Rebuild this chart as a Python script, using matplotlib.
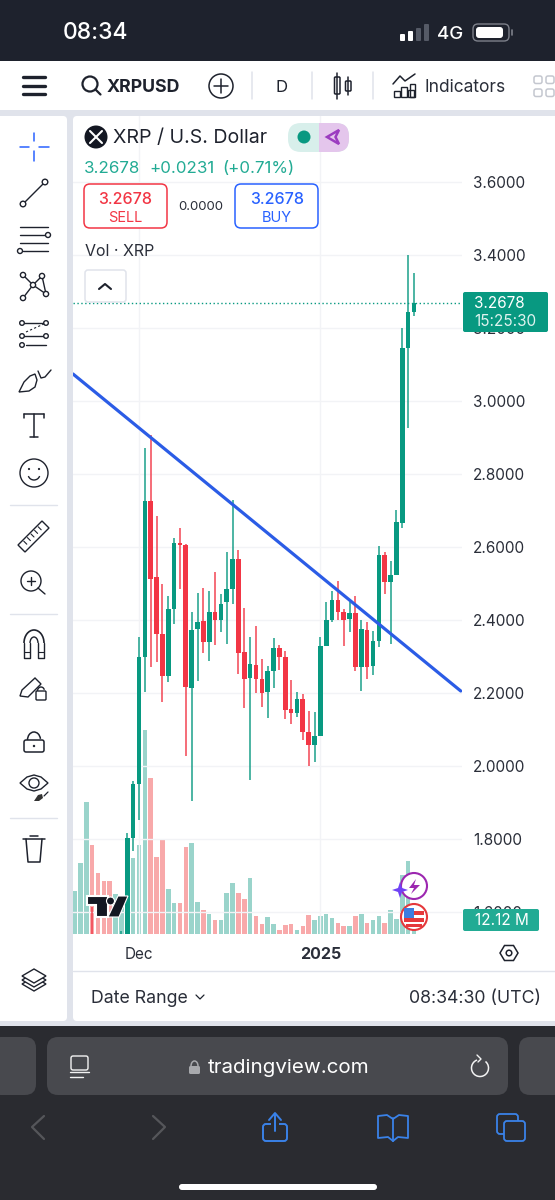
"""
XRP / U.S. Dollar daily chart, phone screenshot of tradingview
"""

import matplotlib
matplotlib.use("Agg")
import matplotlib.pyplot as plt
from matplotlib.patches import FancyBboxPatch, Circle, Polygon, Arc

plt.rcParams['font.family'] = ['Inter', 'DejaVu Sans']

W, H = 555, 1200

# day index, 0 is Dec 1 2024, 31 is Jan 1 2025
days = list(range(-11, 48))

# candles left of -2 sit below the visible pane, rough estimates
opens = [1.00, 1.11, 1.12, 1.47, 1.40, 1.38, 1.36, 1.35, 1.40, 1.50, 1.802, 1.952,
         2.298, 2.725, 2.517, 2.362, 2.246, 2.430, 2.612, 2.605, 2.215, 2.374, 2.398,
         2.339, 2.423, 2.400, 2.449, 2.486, 2.568, 2.311, 2.242, 2.278, 2.239, 2.202,
         2.259, 2.324, 2.298, 2.155, 2.146, 2.184, 2.092, 2.057, 2.082, 2.330, 2.401,
         2.455, 2.421, 2.403, 2.420, 2.272, 2.373, 2.274, 2.342, 2.578, 2.505, 2.523,
         2.667, 3.144, 3.245]
highs = [1.15, 1.30, 1.50, 1.615, 1.46, 1.47, 1.43, 1.46, 1.547, 1.817, 1.960, 2.353,
         2.872, 2.907, 2.684, 2.499, 2.466, 2.624, 2.651, 2.608, 2.423, 2.473, 2.487,
         2.480, 2.531, 2.470, 2.585, 2.729, 2.592, 2.432, 2.353, 2.384, 2.294, 2.275,
         2.352, 2.332, 2.314, 2.235, 2.204, 2.196, 2.152, 2.149, 2.353, 2.448, 2.479,
         2.508, 2.429, 2.450, 2.467, 2.400, 2.394, 2.371, 2.604, 2.585, 2.563, 2.700,
         3.199, 3.401, 3.351]
lows = [0.98, 1.08, 1.11, 1.30, 1.34, 1.30, 1.34, 1.34, 1.38, 1.49, 1.767, 1.852,
        2.204, 2.272, 2.286, 2.174, 2.231, 2.389, 2.484, 2.028, 1.904, 2.234, 2.310,
        2.288, 2.332, 2.368, 2.334, 2.444, 2.251, 2.160, 1.962, 2.200, 2.163, 2.131,
        2.213, 2.263, 2.129, 2.116, 2.135, 2.071, 2.000, 2.012, 2.082, 2.330, 2.395,
        2.400, 2.330, 2.368, 2.261, 2.206, 2.237, 2.249, 2.327, 2.471, 2.333, 2.523,
        2.651, 2.925, 3.233]
closes = [1.11, 1.12, 1.47, 1.40, 1.38, 1.36, 1.35, 1.40, 1.50, 1.802, 1.952, 2.298,
          2.727, 2.513, 2.362, 2.247, 2.429, 2.612, 2.605, 2.217, 2.373, 2.395, 2.339,
          2.423, 2.399, 2.445, 2.485, 2.568, 2.310, 2.238, 2.279, 2.237, 2.201, 2.260,
          2.323, 2.298, 2.153, 2.146, 2.183, 2.094, 2.057, 2.081, 2.330, 2.401, 2.454,
          2.422, 2.399, 2.420, 2.272, 2.374, 2.272, 2.342, 2.577, 2.505, 2.523, 2.668,
          3.144, 3.245, 3.2678]
volumes = [40, 66, 123, 83, 57, 49, 49, 37, 25, 53, 71, 83, 190, 145, 72, 88, 42, 29, 29,
           81, 85, 30, 22, 19, 13, 13, 38, 47, 38, 33, 52, 17, 9, 15.5, 9, 4, 8, 9, 4, 7,
           18, 13, 17, 19, 15, 10, 7, 7.5, 17, 19, 10.5, 13, 17, 10, 22, 14, 55, 68, 12.12]

price_ticks = [3.6, 3.4, 3.2, 3.0, 2.8, 2.6, 2.4, 2.2, 2.0, 1.8, 1.6]
date_ticks = [0, 31]
date_labels = ['Dec', '2025']

# trendline ends, (day, price)
trend_days = [-11.28, 55.0]
trend_prices = [3.074, 2.2055]

GREEN = '#089981'
RED = '#f23645'
VOL_GREEN = '#9ad4cb'
VOL_RED = '#f8a9aa'
BLUE = '#2b5ce6'
INK = '#1e222d'
GRID = '#f2f3f6'

# pixel scales of the chart pane
PANE_L, PANE_R, PANE_T, PANE_B = 73, 462, 116, 934
DAY0_X, DAY_PX = 139.0, 5.85
PRICE_Y, PRICE_PX = 255.0, 365.0
VOL_PER_PX = 0.93


def rect_for(l, t, r, b):
    return [l / W, 1 - b / H, (r - l) / W, (b - t) / H]


fig = plt.figure(figsize=(W / 100, H / 100), dpi=100, facecolor='white')

bg = fig.add_axes([0, 0, 1, 1], zorder=0)
top = fig.add_axes([0, 0, 1, 1], zorder=3)
for a in (bg, top):
    a.set_xlim(0, W)
    a.set_ylim(H, 0)
    a.axis('off')
top.patch.set_alpha(0)


def box(ax, l, t, r, b, fc='none', ec='none', lw=1.0, rad=0, z=2):
    style = f'round,pad=0,rounding_size={rad}' if rad else 'square,pad=0'
    p = FancyBboxPatch((l, t), r - l, b - t, boxstyle=style, fc=fc, ec=ec, lw=lw, zorder=z)
    ax.add_patch(p)
    return p


def line(xs, ys, c=INK, lw=1.0, z=4, **kw):
    top.plot(xs, ys, color=c, lw=lw, zorder=z, solid_capstyle=kw.pop('cap', 'round'), **kw)


def ring(x, y, r, c=INK, lw=1.0, fc='white', z=4):
    top.add_patch(Circle((x, y), r, fc=fc, ec=c, lw=lw, zorder=z))


def label(x, y, s, size=11, c=INK, ha='center', weight='normal', z=6):
    # va center sits a little high for this font
    top.text(x, y + 1.2, s, fontsize=size, color=c, ha=ha, va='center', fontweight=weight, zorder=z)


# ---- page background blocks
box(bg, 0, 0, W, 61, fc='#1e222d')
box(bg, 0, 61, W, 110, fc='white')
box(bg, 0, 110, W, 1026, fc='#e0e3eb')
box(bg, -8, 116, 67, 1021, fc='white', rad=4)
box(bg, 73, 116, W + 8, 1021, fc='white', rad=4)
box(bg, 0, 1026, W, H, fc='#2a2b30')

# ---- volume pane under the candles
ax_vol = fig.add_axes(rect_for(PANE_L, PANE_T, PANE_R, PANE_B), zorder=1)
ax_vol.patch.set_alpha(0)
ax_vol.set_xlim((PANE_L - DAY0_X) / DAY_PX, (PANE_R - DAY0_X) / DAY_PX)
ax_vol.set_ylim(0, (PANE_B - PANE_T) * VOL_PER_PX)
ax_vol.axis('off')
vol_colors = [VOL_GREEN if c >= o else VOL_RED for o, c in zip(opens, closes)]
ax_vol.bar(days, volumes, width=0.78, color=vol_colors, linewidth=0)

# ---- price pane
ax = fig.add_axes(rect_for(PANE_L, PANE_T, PANE_R, PANE_B), zorder=2)
ax.patch.set_alpha(0)
ax.set_xlim((PANE_L - DAY0_X) / DAY_PX, (PANE_R - DAY0_X) / DAY_PX)
ax.set_ylim(3.4 - (PANE_B - PRICE_Y) / PRICE_PX, 3.4 + (PRICE_Y - PANE_T) / PRICE_PX)
for s in ax.spines.values():
    s.set_visible(False)
ax.yaxis.tick_right()
ax.set_yticks(price_ticks)
ax.set_yticklabels([f'{p:.4f}' for p in price_ticks], fontsize=11, color='#2a2e39')
ax.set_xticks(date_ticks)
ax.set_xticklabels(date_labels, fontsize=11, color='#2a2e39')
ax.get_xticklabels()[1].set_fontweight('bold')
ax.get_xticklabels()[1].set_fontsize(11.5)
ax.tick_params(axis='y', length=0, pad=8)
ax.tick_params(axis='x', length=0, pad=9.5)
ax.grid(True, color=GRID, lw=1.0, zorder=0)
ax.set_axisbelow(True)

colors = [GREEN if c >= o else RED for o, c in zip(opens, closes)]
ax.vlines(days, lows, highs, colors=colors, lw=1.2, alpha=0.85, zorder=3)
ax.bar(days, [c - o for o, c in zip(opens, closes)], bottom=opens, width=0.8,
       color=colors, linewidth=0, zorder=4)
ax.axhline(closes[-1], color=GREEN, lw=1.0, ls=(0, (1, 1.8)), zorder=2)
ax.plot(trend_days, trend_prices, color=BLUE, lw=2.3, zorder=5, solid_capstyle='round')

# ---- status bar
label(96, 32, '08:34', size=16.5, c='white', weight='medium')
for bx, bh, col in [(400, 7, 'white'), (408, 10, 'white'), (416, 13, '#555a66'), (424, 17, '#555a66')]:
    box(top, bx, 41 - bh, bx + 5, 41, fc=col, rad=1, z=5)
label(450, 33, '4G', size=13.5, c='white', weight='medium')
box(top, 473, 24, 509, 41, ec='#7d808a', lw=1.0, rad=5, z=5)
box(top, 476, 27, 503, 38, fc='white', rad=3, z=5)
line([511.5, 511.5], [30, 35], c='#7d808a', lw=1.2)

# ---- top toolbar
for yy in (77, 85.5, 94):
    line([23, 45], [yy, yy], lw=2.4)
ring(90, 84, 7.5, lw=1.6)
line([95.5, 100.5], [89.5, 94.5], lw=1.6)
label(107, 86, 'XRPUSD', size=12.8, ha='left', weight='bold')
ring(221, 86, 12, lw=1.1)
line([214, 228], [86, 86], lw=1.1)
line([221, 221], [79, 93], lw=1.1)
for sx in (252, 311.5, 373):
    line([sx, sx], [72, 99], c='#e0e3eb', lw=1.1)
label(282, 86, 'D', size=12)
box(top, 334.5, 77, 340, 94, ec=INK, lw=1.1, rad=1, z=5)
line([337.3, 337.3], [73, 99], lw=1.1, z=3)
box(top, 345.5, 81, 351, 91, ec=INK, lw=1.1, rad=1, z=5)
line([348.3, 348.3], [77, 95], lw=1.1, z=3)
line([393, 400, 405, 415], [84, 76, 81, 74], lw=1.1)
for ix, iy in [(394, 91), (401, 87), (408, 90)]:
    box(top, ix, iy, ix + 6, 96.5, ec=INK, lw=1.0, z=5)
box(top, 410, 84, 414.5, 96.5, ec=INK, lw=1.0, z=5)
label(425, 86, 'Indicators', size=12.5, ha='left', c='#2a2e39')
for qx, qy in [(534, 76), (546, 76), (534, 89), (546, 89)]:
    box(top, qx, qy, qx + 8, qy + 7.5, ec='#c4c7cf', lw=1.1, rad=2, z=5)

# ---- legend block on the chart
top.add_patch(Circle((96, 137), 11.5, fc='#131722', zorder=5))
line([90, 102], [131, 143], c='white', lw=1.5, z=6)
line([90, 102], [143, 131], c='white', lw=1.5, z=6)
label(113, 137, 'XRP / U.S. Dollar', size=14.1, ha='left', c='#1e222d')
box(top, 288, 123, 349, 152, fc='#d8efeb', rad=13, z=4)
top.add_patch(FancyBboxPatch((319, 123), 30, 29, boxstyle='round,pad=0,rounding_size=13',
                             fc='#e4c6ec', ec='none', zorder=4))
box(top, 318.5, 123, 332, 152, fc='#e4c6ec', z=4)
top.add_patch(Circle((304, 137), 6.5, fc=GREEN, zorder=5))
top.add_patch(Polygon([(339, 130), (327, 137), (339, 144), (335.5, 137)], closed=True,
                      fc='none', ec='#9c3cc0', lw=1.8, zorder=5))
label(84, 167, '3.2678', size=12.2, c='#22ab94', ha='left')
label(149, 167, '+0.0231', size=12.2, c='#22ab94', ha='left')
label(222, 167, '(+0.71%)', size=12.2, c='#22ab94', ha='left')
box(top, 84, 184, 167, 228, fc='white', ec=RED, lw=1.1, rad=6, z=4)
label(125, 198, '3.2678', size=11.5, c=RED, weight='medium')
label(125, 217, 'SELL', size=10.5, c=RED)
label(201, 206, '0.0000', size=9.5, c='#2a2e39')
box(top, 235, 184, 318, 228, fc='white', ec='#2962ff', lw=1.1, rad=6, z=4)
label(277, 198, '3.2678', size=11.5, c='#2962ff', weight='medium')
label(277, 217, 'BUY', size=10.5, c='#2962ff')
label(85, 250, 'Vol · XRP', size=11.5, ha='left', c='#2a2e39')
box(top, 85, 270, 126, 302, fc='white', ec='#e0e3eb', lw=1.1, rad=3, z=4)
line([99, 105, 111], [289, 284, 289], lw=1.5, z=5)

# ---- price and volume labels on the axis
box(top, 463, 292, 548, 332, fc=GREEN, rad=2, z=5)
label(474, 302, f'{closes[-1]:.4f}', size=11, c='white', ha='left')
label(474, 320, '15:25:30', size=11, c='#dff3ef', ha='left')
box(top, 463, 909, 539, 931, fc='#22ab94', rad=2, z=5)
label(475, 919, f'{volumes[-1]:.2f} M', size=11, c='white', ha='left')

# settings hexagon
top.add_patch(Polygon([(500, 953), (504.5, 945.5), (513.5, 945.5), (518, 953), (513.5, 960.5), (504.5, 960.5)],
                      closed=True, fc='white', ec=INK, lw=1.1, zorder=5))
ring(509, 953, 2.8, lw=1.1, z=6)

# ---- tradingview mark and event badges over the volume
top.add_patch(Polygon([(87, 896), (108, 896), (108, 917), (96, 917), (96, 905), (87, 905)], closed=True,
                      fc='#131722', ec='white', lw=1.5, zorder=5))
top.add_patch(Circle((110.5, 901), 4, fc='#131722', ec='white', lw=0.8, zorder=5))
top.add_patch(Polygon([(118, 896), (128, 896), (119, 917), (108, 917)], closed=True,
                      fc='#131722', ec='white', lw=0.8, zorder=5))
ring(414, 886, 13, c='#9c27b0', lw=1.5)
top.add_patch(Polygon([(416, 879), (409, 888), (414, 888), (411, 894), (420, 885), (414, 885)], closed=True,
                      fc='#9c27b0', zorder=5))
top.add_patch(Polygon([(400, 882), (402, 888), (408, 890), (402, 892), (400, 898), (398, 892), (392, 890), (398, 888)],
                      closed=True, fc='#6f42f5', zorder=6))
ring(414, 917, 13, c='#e5383b', lw=1.5)
box(top, 404, 911, 424, 914.5, fc='#e5383b', z=5)
box(top, 404, 918, 424, 921.5, fc='#e5383b', z=5)
box(top, 406, 924, 422, 927, fc='#e5383b', z=5)
box(top, 404, 908, 414, 918, fc='#3d7de0', z=6)

# ---- left drawing toolbar
line([34, 34], [133, 141], c='#2962ff', lw=1.1)
line([34, 34], [151, 161], c='#2962ff', lw=1.1)
line([20, 29], [146.5, 146.5], c='#2962ff', lw=1.1)
line([39, 49], [146.5, 146.5], c='#2962ff', lw=1.1)

line([23, 45], [204, 182])
ring(23, 204, 2.8)
ring(45, 182, 2.8)

line([20, 48], [227, 227])
line([20, 46], [235, 235])
ring(48, 235, 2.5)
line([20, 48], [243, 243])
line([23, 48], [251, 251])
ring(20, 251, 2.5)

pattern_x = [23, 33, 42, 46, 33, 23]
pattern_y = [298, 285, 276, 294, 285, 275]
line(pattern_x, pattern_y, lw=1.0)
for px, py in [(23, 298), (23, 275), (33, 285), (42, 276), (46, 294)]:
    ring(px, py, 2.6)

line([24, 47], [323, 323])
ring(22, 323, 2.3)
ring(46, 323, 2.3)
line([24, 47], [336, 336])
ring(22, 336, 2.3)
ring(46, 336, 2.3)
ring(22, 345, 2.3)
line([26, 46], [345, 345])
line([26, 46], [332, 323], lw=0.8, ls=(0, (2, 2)))

# brush, teardrop head and a curved handle
top.add_patch(Polygon([(19, 392), (24, 382), (30, 376), (35, 374), (37, 380), (35, 387), (29, 391)], closed=True,
                      fc='white', ec=INK, lw=1.0, zorder=4))
line([38, 41, 45, 51], [371, 378, 377, 370])

line([24, 44], [414, 414], lw=1.1)
line([34, 34], [414, 437], lw=1.1)
line([30, 38], [437, 437], lw=1.1)
line([24, 24], [414, 418], lw=1.1)
line([44, 44], [414, 418], lw=1.1)

ring(34, 473, 14)
top.add_patch(Circle((29, 469), 1.1, fc=INK, zorder=5))
top.add_patch(Circle((39, 469), 1.1, fc=INK, zorder=5))
top.add_patch(Arc((34, 474), 12, 12, theta1=20, theta2=160, color=INK, lw=1.0, zorder=5))

for sy in (505, 614, 818):
    line([10, 57], [sy, sy], c='#e0e3eb', lw=1.0)

top.add_patch(Polygon([(18, 545), (42, 521), (49, 528), (25, 552)], closed=True,
                      fc='white', ec=INK, lw=1.0, zorder=4))
for t in (0.2, 0.35, 0.5, 0.65, 0.8):
    line([18 + 24 * t + 1, 18 + 24 * t + 4], [545 - 24 * t + 1, 545 - 24 * t + 4], lw=0.8, z=5)

ring(31, 581, 10)
line([27, 35], [581, 581])
line([31, 31], [577, 585])
line([38, 45], [588, 594])

top.add_patch(Arc((34, 643), 20, 26, theta1=180, theta2=360, color=INK, lw=1.2, zorder=5))
top.add_patch(Arc((34, 643), 8, 12, theta1=180, theta2=360, color=INK, lw=1.0, zorder=5))
line([24, 24, 30, 30], [643, 658, 658, 643])
line([38, 38, 44, 44], [643, 658, 658, 643])
line([24, 30], [652, 652], lw=0.8)
line([38, 44], [652, 652], lw=0.8)

top.add_patch(Polygon([(20, 696), (22, 690), (35, 678), (41, 684), (28, 697)], closed=True,
                      fc='white', ec=INK, lw=1.0, zorder=4))
box(top, 36, 691, 46, 700, fc='white', ec=INK, lw=1.0, rad=1, z=5)
top.add_patch(Arc((41, 691), 7, 8, theta1=180, theta2=340, color=INK, lw=1.0, zorder=5))

box(top, 24, 740, 44, 752, fc='white', ec=INK, lw=1.1, rad=2, z=4)
top.add_patch(Arc((34, 740), 13, 16, theta1=180, theta2=350, color=INK, lw=1.1, zorder=5))
top.add_patch(Circle((34, 746), 1.2, fc=INK, zorder=5))

top.add_patch(Polygon([(20, 783), (27, 777), (34, 775), (41, 777), (48, 783), (41, 789), (34, 791), (27, 789)],
                      closed=True, fc='white', ec=INK, lw=1.0, zorder=4))
ring(34, 783, 5)
top.add_patch(Polygon([(34, 801), (38, 795), (42, 794), (43, 798), (39, 801)], closed=True,
                      fc='#333333', zorder=5))
line([44, 48], [796, 792], lw=0.9)

line([23, 45], [839, 839], lw=1.1)
line([30, 38], [836, 836], lw=1.1)
line([26, 28, 40, 42], [839, 862, 862, 839], lw=1.1)

for dy in (8, 4, 0):
    top.add_patch(Polygon([(22, 976 + dy), (34, 969 + dy), (46, 976 + dy), (34, 983 + dy)], closed=True,
                          fc='white', ec=INK, lw=1.0, zorder=5 - dy * 0.1))

# ---- footer of the pane
line([73, W], [971, 971], c='#e0e3eb', lw=1.0)
label(91, 997, 'Date Range', size=12.8, ha='left', c='#2a2e39')
line([196, 200, 204], [995, 999, 995], lw=0.9)
label(541, 997, '08:34:30 (UTC)', size=12.8, ha='right', c='#2a2e39')

# ---- browser bar
box(top, -10, 1037, 36, 1095, fc='#48494e', rad=11, z=3)
box(top, 47, 1037, 508, 1095, fc='#48494e', rad=11, z=3)
box(top, 519, 1037, 565, 1095, fc='#48494e', rad=11, z=3)
box(top, 71, 1056, 88, 1070, ec='#f2f2f2', lw=1.0, rad=2, z=4)
line([70, 89], [1072, 1072], c='#f2f2f2', lw=1.0)
line([70, 83], [1077, 1077], c='#f2f2f2', lw=1.0)
box(top, 189, 1066, 200, 1074, fc='#a8a9ad', rad=1.5, z=4)
top.add_patch(Arc((194.5, 1066), 7, 10, theta1=180, theta2=360, color='#a8a9ad', lw=1.1, zorder=4))
label(208, 1067, 'tradingview.com', size=14.8, ha='left', c='white')
top.add_patch(Arc((480, 1068), 17, 17, theta1=-50, theta2=250, color='#f2f2f2', lw=1.1, zorder=4))
line([477, 481, 478], [1055, 1059, 1062], c='#f2f2f2', lw=1.0)

line([44, 32, 44], [1116, 1127, 1139], c='#55565a', lw=1.6)
line([153, 165, 153], [1116, 1127, 1139], c='#55565a', lw=1.6)
NAV_BLUE = '#3a82e8'
box(top, 263, 1124, 287, 1141, ec=NAV_BLUE, lw=1.4, rad=3, z=4)
box(top, 271, 1118, 279, 1128, fc='#2a2b30', z=4)
line([275, 275], [1114, 1131], c=NAV_BLUE, lw=1.4, z=5)
line([269, 275, 281], [1120, 1113, 1120], c=NAV_BLUE, lw=1.4, z=5)
line([393, 393], [1118, 1141], c=NAV_BLUE, lw=1.3)
line([393, 387, 378, 378, 388, 393], [1119, 1115, 1116, 1138, 1137, 1141], c=NAV_BLUE, lw=1.3)
line([393, 399, 408, 408, 398, 393], [1119, 1115, 1116, 1138, 1137, 1141], c=NAV_BLUE, lw=1.3)
box(top, 497, 1114, 518, 1134, ec=NAV_BLUE, lw=1.3, rad=3, z=4)
box(top, 504, 1121, 525, 1141, fc='#2a2b30', ec=NAV_BLUE, lw=1.3, rad=3, z=5)
box(top, 179, 1184, 377, 1190, fc='white', rad=3, z=4)

fig.savefig('out.png', dpi=100, facecolor=fig.get_facecolor())
